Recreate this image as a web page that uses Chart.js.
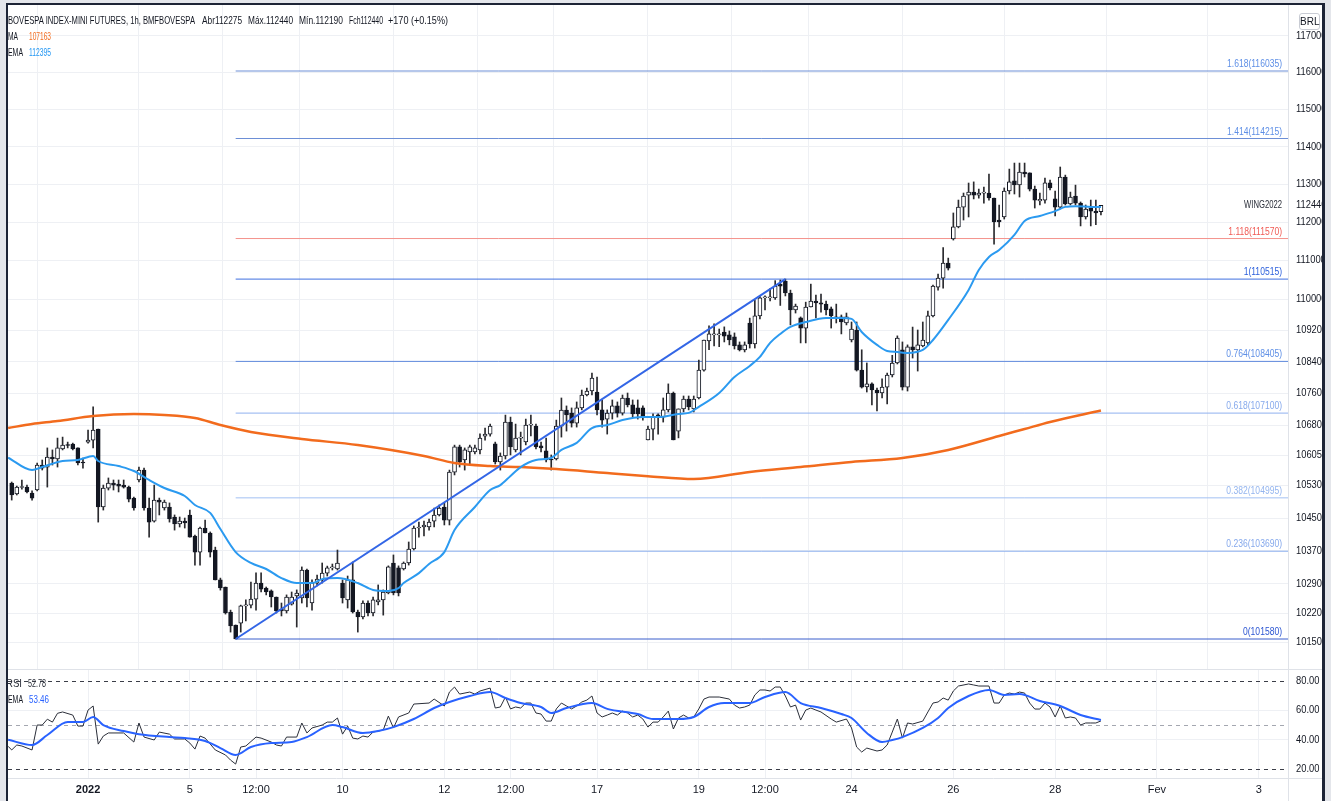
<!DOCTYPE html>
<html>
<head>
<meta charset="utf-8">
<script src="https://cdn.jsdelivr.net/npm/chart.js@4.4.1/dist/chart.umd.min.js"></script>
<style>
  html, body { margin:0; padding:0; }
  body { width:1331px; height:801px; overflow:hidden; position:relative; background:#e4e6eb;
         font-family:'Liberation Sans', Arial, sans-serif; }
  #inner { position:absolute; left:8px; top:5px; width:1314px; height:796px; background:#fff; }
  canvas { position:absolute; display:block; }
  #cPrice { left:8px; top:5px; }
  #cRsi { left:8px; top:669px; }
  .t { position:absolute; white-space:nowrap; font-size:11.5px; line-height:12px; color:#131722; transform-origin:0 50%; z-index:5; }
  .fr { position:absolute; background:#1d2436; z-index:10; }
  #brl { position:absolute; left:1299px; top:13px; width:19px; height:15px; border:1px solid #c9ccd4; border-radius:3px;
         background:#fff; font-size:10px; line-height:15px; text-align:center; color:#131722; z-index:6; }
</style>
</head>
<body>
<div id="inner"></div>
<canvas id="cPrice" width="1314" height="664"></canvas>
<canvas id="cRsi" width="1314" height="132"></canvas>

<span class="t" style="left:8px;top:14px" data-w="187">BOVESPA INDEX-MINI FUTURES, 1h, BMFBOVESPA</span>
<span class="t" style="left:202px;top:14px" data-w="40">Abr112275</span>
<span class="t" style="left:248px;top:14px" data-w="45">Máx.112440</span>
<span class="t" style="left:299px;top:14px" data-w="44">Mín.112190</span>
<span class="t" style="left:349px;top:14px" data-w="34">Fch112440</span>
<span class="t" style="left:388px;top:14px" data-w="60">+170 (+0.15%)</span>
<span class="t" style="left:8px;top:30px" data-w="10">MA</span>
<span class="t" style="left:29px;top:30px;color:#f26b1d" data-w="22">107163</span>
<span class="t" style="left:8px;top:46px" data-w="15">EMA</span>
<span class="t" style="left:29px;top:46px;color:#2196f3" data-w="22">112395</span>
<span class="t" style="left:6px;top:677px;color:#2a2e39" data-w="16">RSI</span>
<span class="t" style="left:28px;top:677px;color:#2a2e39" data-w="18">52.78</span>
<span class="t" style="left:8px;top:693px" data-w="15">EMA</span>
<span class="t" style="left:29px;top:693px;color:#2962ff" data-w="20">53.46</span>
<div id="brl">BRL</div>

<div class="fr" style="left:6px;top:3px;width:2px;height:798px"></div>
<div class="fr" style="left:6px;top:3px;width:1319px;height:2px"></div>
<div class="fr" style="left:1322px;top:3px;width:3px;height:798px"></div>

<script>
// ---------- data ----------
const opens = [105360,105090,105250,105260,105115,105188,105805,105755,106005,105955,
106205,106300,106325,106230,105880,106375,106425,106700,104770,105235,
105360,105335,105310,105260,104990,105435,105680,104745,104425,104940,
104745,104770,104525,104355,104425,104575,104060,103670,104255,104135,
103720,102995,102825,102225,101915,101960,102370,102390,102535,102920,
102800,102730,102585,102295,102250,102415,102610,102560,103235,102440,
102920,102995,103160,103285,103260,102920,102515,102995,102225,102105,
102440,102200,102465,102515,102680,103405,103285,103260,103405,103745,
104255,104280,104280,104425,104575,104770,104450,105630,106255,105930,
106130,106130,106180,106525,106575,106330,105880,106030,106875,106180,
106475,106380,106800,106775,106280,106155,105955,105955,106775,107178,
107100,106850,107230,107555,107655,107630,107180,106950,107100,107280,
107100,107480,107305,107230,107230,106430,106700,107055,107000,107180,
107605,106650,107205,107455,107205,107480,108185,108925,109080,109080,
109155,109080,109030,108825,108695,109385,108850,109565,110030,110030,
110030,110385,110465,110155,109720,109515,109255,109795,109950,109900,
109870,109745,109540,109540,109385,108950,109205,108185,107760,107835,
107680,107605,107755,108060,108365,108700,107755,108775,108695,108800,
108875,109565,110305,110540,110930,111560,111875,112395,112710,112790,
112710,112765,112765,112635,112055,112135,112820,113085,112980,113320,
113300,112870,112560,112580,113035,112610,112395,113190,112475,112685,
112500,112135,112370,112290,112275];

const highs = [105385,105285,105435,105310,105165,105855,105930,106230,106180,106475,
106500,106375,106350,106230,105980,106675,107255,106700,105310,105485,
105435,105435,105435,105285,105015,105755,105730,104990,105310,104990,
104940,104870,104575,104525,104500,104695,104085,104280,104450,104160,
103790,103040,102825,102270,101915,102390,102515,102945,103165,103165,
102825,102755,102585,102440,102635,102705,102755,103310,103260,102995,
103115,103405,103330,103380,103720,102995,103090,103430,102270,102490,
102490,102585,102875,102755,103335,103600,103335,103430,103915,104305,
104400,104425,104475,104745,104820,104870,105680,106300,106300,106230,
106300,106300,106580,106725,106825,106375,106105,107050,107000,106825,
106625,106950,107050,106825,106375,106475,106055,106925,107480,107280,
107230,107380,107680,107730,108110,108010,107430,107180,107430,107380,
107555,107605,107430,107430,107280,106775,107080,107080,107480,107835,
107630,107205,107530,107530,107530,108440,108950,109310,109365,109230,
109285,109180,109130,108900,108900,109510,109970,110080,110080,110270,
110475,110490,110515,110230,109870,109540,109920,110385,110100,110130,
109950,109795,109870,109590,109640,109410,109410,108700,108365,107860,
107730,107960,108110,108560,109055,108900,108825,109280,109205,109410,
109690,110360,110645,111335,111060,112240,112580,112765,113030,113060,
112870,112920,113270,112635,112450,112900,113400,113560,113560,113560,
113300,112950,112765,113160,113110,112820,113455,113240,112790,112975,
112530,112450,112580,112580,112440];

const lows = [104940,105065,105210,105115,104940,105165,105682,105260,105805,105755,
106180,106230,106180,105805,105730,106350,106230,104400,104695,105188,
105188,105140,105235,104895,104695,105385,104695,104035,104400,104575,
104695,104400,104205,104280,104255,104035,103355,103355,104135,103550,
102995,102750,102175,101745,101580,101745,102010,102320,102270,102705,
102635,102345,102200,102130,102200,102390,101865,102440,102345,102270,
102850,102920,103090,103235,103235,102440,102320,102200,101745,102060,
102130,102130,102395,102150,102660,102635,102610,103235,103355,103720,
104035,104060,104205,104280,104550,104330,104330,105560,105755,105680,
105805,106080,106080,106425,106525,105830,105680,105955,106055,106130,
106055,106305,106530,106205,106130,105880,105680,105930,106500,106650,
106750,106750,107180,107530,107555,107055,106750,106575,106950,107000,
107050,107255,107000,106950,106925,106430,106430,106575,106875,107130,
106430,106480,107130,107180,107130,107455,108160,108700,108800,108780,
108900,108825,108720,108670,108645,108745,108745,109490,109720,109950,
109990,109835,110080,109335,109640,108875,108875,109795,109515,109665,
109590,109255,109385,109105,109335,108900,108160,107730,107630,107305,
107155,107480,107330,108010,108340,107680,107655,108490,108160,108775,
108825,109540,110230,110280,110750,111530,111850,112055,112135,112610,
112630,112500,112580,111425,111875,112080,112740,112740,112660,113190,
112820,112370,112450,112500,112850,112160,112345,112450,112450,112450,
111900,112080,111900,111930,112190];

const closes = [105065,105260,105265,105140,104990,105805,105730,106005,105955,106230,
106300,106290,106205,105855,105855,106425,106675,104770,105235,105360,
105310,105285,105260,104965,104745,105680,104745,104400,104940,104890,
104890,104475,104355,104425,104380,104035,103670,104255,104135,103670,
102995,102800,102200,101890,101580,102370,102390,102535,102920,102775,
102705,102585,102250,102250,102585,102585,102680,103235,102560,102920,
103015,103160,103285,103310,103405,102560,102995,102225,102105,102440,
102200,102515,102515,102705,103310,102680,102680,103405,103745,104255,
104280,104330,104400,104575,104745,104450,105630,106255,105880,106180,
106255,106230,106475,106575,106775,105880,106030,106875,106255,106475,
106500,106800,106825,106255,106230,105930,105930,106775,107178,107055,
106850,107230,107555,107655,107985,107178,106925,107100,107280,107100,
107480,107305,107080,107080,107000,106700,107000,107000,107180,107605,
106430,107205,107455,107255,107455,108185,108950,109105,109105,109090,
109050,108950,108800,108695,108825,108850,109565,110030,110040,110055,
110335,110335,110155,109720,109820,109255,109795,109950,109900,109870,
109720,109565,109515,109410,109540,109230,108185,107755,107835,107680,
107605,107755,108060,108365,109000,107755,108775,108695,108825,108950,
109565,110335,110540,110930,110800,111875,112395,112685,112790,112710,
112765,112775,112635,112005,112005,112820,113060,112980,113320,113270,
112870,112580,112600,113035,112900,112395,113190,112475,112660,112500,
112135,112345,112290,112240,112440];

// moving averages: [bar index, value]
const maPoints = [[-0.7,106727],[4,106827],[9,106900],[16,107027],[24,107077],[30,107052],[36,106977],[41,106802],[47,106627],[57,106452],[68,106303],[81,106030],[87,105855],[94,105780],[100,105755],[107,105705],[117,105605],[125,105530],[134,105460],[145,105635],[155,105755],[165,105880],[175,105980],[184,106180],[194,106527],[199,106702],[204,106877],[214,107163]];
const emaPoints = [[-0.7,105990],[4,105682],[6,105755],[10,105905],[13,105930],[16,106030],[17,105905],[21,105780],[24,105657],[27,105435],[30,105237],[34,105040],[36,104820],[39,104625],[41,104230],[44,103670],[47,103405],[50,103260],[53,103040],[56,102920],[59,102920],[61,103015],[64,103040],[68,102920],[71,102755],[74,102730],[76,102800],[77,102920],[80,103160],[82,103380],[85,103670],[87,104205],[91,104770],[94,105188],[96,105310],[98,105535],[100,105755],[103,105930],[106,105980],[108,106180],[111,106355],[114,106725],[117,106800],[120,106925],[124,107000],[127,107000],[131,107080],[133,107105],[135,107255],[139,107605],[142,108010],[145,108290],[147,108520],[149,108875],[151,109105],[153,109285],[156,109410],[160,109515],[163,109515],[165,109490],[167,109155],[170,108825],[172,108670],[174,108645],[176,108620],[179,108695],[181,108950],[184,109465],[188,110235],[190,110750],[192,111090],[194,111270],[197,111665],[199,112030],[202,112160],[205,112290],[207,112400],[209,112420],[212,112400],[214,112395]];

// RSI and its EMA: [bar index, value]
const rsiPoints = [[-0.7,35.5],[0,33],[1,36.4],[2,35.7],[4,33],[5,50],[6,50],[7,54],[8,52],[9,58],[10,58.9],[12,56.8],[13,49.3],[14,49.3],[15,60.2],[16,63],[17,37],[18,42.5],[19,44.6],[22,44.6],[24,38.4],[25,51.4],[26,41.8],[28,39.8],[29,45.2],[31,43.8],[32,40.5],[34,40.5],[35,37.7],[36,33.6],[37,42.5],[38,41.1],[40,33],[42,29.6],[43,26.1],[44,23.4],[45,35],[46,35.7],[48,41.8],[49,41.1],[51,38.4],[52,36.4],[53,35.7],[54,41.8],[56,41.8],[57,51.4],[58,44.6],[59,48],[61,50],[62,52],[63,52],[64,54.8],[65,43.8],[66,49.3],[67,41.1],[68,40.5],[69,42.5],[70,41.8],[71,45.2],[73,46.6],[74,56.1],[75,48],[76,55.5],[78,58.2],[79,64.3],[82,65],[83,67.7],[85,63],[86,72.5],[87,75.9],[88,71.1],[90,72.5],[91,71.1],[92,73.2],[94,75.2],[95,61.6],[96,62.3],[97,69.1],[98,61],[99,62.3],[100,61.6],[101,65],[102,65],[103,58.2],[104,57.5],[105,52.7],[106,52.7],[107,61],[108,65],[109,63],[110,61],[111,63],[112,65.7],[113,67],[114,69.8],[115,58.2],[116,55.5],[117,56.8],[118,58.2],[119,56.8],[120,59.5],[121,58.2],[122,55.5],[123,56.8],[124,54.1],[125,48.6],[126,52],[127,52],[128,55.5],[129,59.5],[130,47.3],[131,54.8],[132,56.8],[133,54.8],[134,55.5],[135,61],[136,67.7],[137,69.1],[139,69.1],[141,67.7],[142,63.6],[143,61.6],[144,62.3],[145,63.6],[146,70.5],[147,73.9],[148,73.9],[149,73.2],[150,75.9],[151,75.9],[152,69.8],[153,62.3],[154,63.6],[155,53.4],[156,60.2],[157,61.6],[158,60.2],[159,58.9],[161,54.1],[162,52],[164,54.1],[165,48],[166,35],[167,31.6],[168,34.3],[170,32.3],[171,33],[172,36.4],[173,45.2],[174,54.1],[175,41.1],[176,51.4],[177,50.7],[179,52.7],[180,58.9],[181,65],[182,65.7],[183,68.4],[184,67],[185,73.2],[186,76.6],[188,78],[189,77.3],[190,76.6],[192,76.6],[193,65],[194,65],[195,70.5],[196,71.8],[197,71.1],[198,72.5],[199,71.8],[200,65],[201,60.9],[202,60.9],[203,65],[204,62.3],[205,55.5],[206,63],[207,54.8],[208,55.5],[209,54.8],[210,50],[211,51.4],[212,51.4],[213,51.4],[214,52.78]];
const rsiEmaPoints = [[-0.7,40],[4,36.4],[7,43.2],[11,52],[14,52],[16,55.5],[18,50],[22,45.9],[25,43.8],[31,41.8],[34,41.1],[38,39.1],[41,34.3],[44,29.6],[47,35],[51,37.7],[55,38.4],[58,41.8],[63,50],[65,48.6],[69,44.6],[72,45.9],[75,48.6],[79,54.1],[83,61.6],[86,65.7],[90,69.8],[94,72.5],[97,68.4],[100,65],[104,62.3],[106,58.2],[109,61.6],[114,65],[117,61],[123,57.5],[126,54.1],[131,54.1],[134,55.5],[137,62.3],[140,65],[145,65],[148,69.1],[152,72.5],[155,65],[159,61.6],[163,57.5],[165,54.8],[168,44.6],[171,38.4],[173,39.8],[175,41.8],[179,48],[182,54.8],[184,61.6],[188,69.8],[192,73.9],[195,70.5],[198,71.1],[202,66.4],[206,63],[210,56.8],[214,53.46]];

// Fibonacci retracement
const fibLevels = [1.618, 1.414, 1.118, 1, 0.764, 0.618, 0.382, 0.236, 0];
const fibValues = [116035, 114215, 111570, 110515, 108405, 107100, 104995, 103690, 101580];
const fibStartIdx = 44;
const trendLine = [[44, 101580], [152, 110515]];

// axes
const priceTicks = [117000,116000,115000,114000,113000,112000,111000,110000,109200,108400,107600,106800,106050,105300,104500,103700,102900,102200,101500];
const lastPrice = 112440;
const symbolTag = 'WING2022';
const timeTickIdx = [15, 35, 48, 65, 85, 98, 115, 135, 148, 165, 185, 205, 225, 245];
const timeTickLabels = ['2022','5','12:00','10','12','12:00','17','19','12:00','24','26','28','Fev','3'];
const rsiTicks = [20, 40, 60, 80];
const rsiBands = [80, 50, 20];

// ---------- styles ----------
const FONT = "'Liberation Sans', Arial, sans-serif";
Chart.defaults.font.family = FONT;
Chart.defaults.font.size = 11;
Chart.defaults.color = '#131722';
const GRID = '#eef0f4';
const SEP = '#dfe2e8';
const fibLineColors  = ['#6d8fd6','#6d8fd6','#f4928c','#3f6fe0','#5f88dc','#8fb0ef','#a3c0f3','#8cafee','#3a5fcc'];
const fibLabelColors = ['#5e8fe6','#5e8fe6','#f05a54','#2b5fdc','#5e8fe6','#86a9ec','#94b5ef','#86a9ec','#2b55d2'];

const xMin = -0.727, xMax = 250.75;
const pMin = 100869, pMax = 117843;
const rMin = 13.9, rMax = 88.2;

const idx = opens.map((_, i) => i);
const pts = arr => arr.map(p => ({x: p[0], y: p[1]}));

function noPad(s){ s.paddingTop = 0; s.paddingBottom = 0; s.paddingLeft = 0; s.paddingRight = 0; }

// draws a narrow text (horizontally compressed like the reference) at x,y
function narrowText(ctx, text, x, y, f, align) {
  ctx.save(); ctx.translate(x, y); ctx.scale(f, 1);
  ctx.textAlign = align; ctx.fillText(text, 0, 0); ctx.restore();
}
function axisFactor(ctx) { return 30.5 / ctx.measureText('117000').width; }

// ---------- price chart ----------
const pricePlugin = {
  id: 'priceDeco',
  afterDraw(chart) {
    const {ctx, chartArea: a, scales: {y}} = chart;
    ctx.save();
    ctx.strokeStyle = SEP; ctx.lineWidth = 1;
    ctx.beginPath(); ctx.moveTo(Math.round(a.right) + 0.5, 0); ctx.lineTo(Math.round(a.right) + 0.5, chart.height); ctx.stroke();
    ctx.font = `11px ${FONT}`;
    ctx.textBaseline = 'middle';
    const f = 55 / ctx.measureText('1.618(116035)').width;
    fibLevels.forEach((lv, k) => {
      ctx.fillStyle = fibLabelColors[k];
      narrowText(ctx, `${lv}(${fibValues[k]})`, a.right - 6, y.getPixelForValue(fibValues[k]) - 7, f, 'right');
    });
    const ly = y.getPixelForValue(lastPrice);
    ctx.fillStyle = '#2a2e39';
    narrowText(ctx, symbolTag, a.right - 6, ly, 38 / ctx.measureText(symbolTag).width, 'right');
    // price axis labels, at the scale's own tick positions
    const af = axisFactor(ctx);
    ctx.fillStyle = '#131722';
    y.ticks.forEach(t => narrowText(ctx, String(Math.round(t.value)), a.right + 8, y.getPixelForValue(t.value), af, 'left'));
    narrowText(ctx, String(lastPrice), a.right + 8, ly, af, 'left');
    ctx.restore();
  }
};

new Chart(document.getElementById('cPrice'), {
  type: 'bar',
  data: {
    datasets: [
      ...fibValues.map((v, k) => ({
        type: 'line', data: [{x: fibStartIdx, y: v}, {x: xMax, y: v}],
        borderColor: fibLineColors[k], borderWidth: 1, pointRadius: 0, order: 20
      })),
      {
        type: 'bar', data: idx.map(i => ({x: i, y: [lows[i], highs[i]]})),
        backgroundColor: '#2a2a2e', barThickness: 1, grouped: false, order: 11
      },
      {
        type: 'bar', data: idx.map(i => ({x: i, y: [opens[i], closes[i]]})),
        backgroundColor: c => closes[c.dataIndex] >= opens[c.dataIndex] ? '#ffffff' : '#131722',
        borderColor: '#131722', borderWidth: 1, borderSkipped: false,
        barThickness: 4, minBarLength: 1, grouped: false, order: 10
      },
      { type: 'line', data: pts(maPoints), borderColor: '#f26b1d', borderWidth: 2.5, pointRadius: 0, cubicInterpolationMode: 'monotone', order: 3 },
      { type: 'line', data: pts(emaPoints), borderColor: '#2b9af0', borderWidth: 2, pointRadius: 0, cubicInterpolationMode: 'monotone', order: 2 },
      { type: 'line', data: pts(trendLine), borderColor: '#3366e6', borderWidth: 2, pointRadius: 0, order: 1 }
    ]
  },
  options: {
    responsive: false, animation: false, events: [],
    layout: {padding: 0},
    plugins: {legend: {display: false}, tooltip: {enabled: false}},
    scales: {
      x: {
        type: 'linear', min: xMin, max: xMax, offset: false,
        afterBuildTicks: s => { s.ticks = timeTickIdx.map(v => ({value: v})); },
        ticks: {display: false},
        grid: {color: GRID, drawTicks: false},
        border: {display: false},
        afterFit: s => { s.height = 0; noPad(s); }
      },
      y: {
        type: 'logarithmic', position: 'right', min: pMin, max: pMax,
        afterBuildTicks: s => { s.ticks = priceTicks.map(v => ({value: v})); },
        ticks: {display: false},
        grid: {color: GRID, drawTicks: false},
        border: {display: false},
        afterFit: s => { s.width = 34; noPad(s); }
      }
    }
  },
  plugins: [pricePlugin]
});

// ---------- RSI chart ----------
const rsiPlugin = {
  id: 'rsiDeco',
  beforeDatasetsDraw(chart) {
    const {ctx, chartArea: a, scales: {y}} = chart;
    ctx.save();
    ctx.lineWidth = 1; ctx.setLineDash([4, 4]);
    rsiBands.forEach(v => {
      const py = Math.round(y.getPixelForValue(v)) + 0.5;
      ctx.strokeStyle = v === 50 ? '#a4a7b0' : '#3b3e48';
      ctx.beginPath(); ctx.moveTo(a.left, py); ctx.lineTo(a.right, py); ctx.stroke();
    });
    ctx.restore();
  },
  afterDraw(chart) {
    const {ctx, chartArea: a, scales: {y}} = chart;
    ctx.save();
    ctx.strokeStyle = SEP; ctx.lineWidth = 1;
    ctx.beginPath();
    ctx.moveTo(0, 0.5); ctx.lineTo(chart.width, 0.5);
    ctx.moveTo(0, Math.round(a.bottom) + 0.5); ctx.lineTo(chart.width, Math.round(a.bottom) + 0.5);
    ctx.moveTo(Math.round(a.right) + 0.5, 0); ctx.lineTo(Math.round(a.right) + 0.5, chart.height);
    ctx.stroke();
    ctx.font = `11px ${FONT}`;
    ctx.textBaseline = 'middle';
    ctx.fillStyle = '#131722';
    const af = axisFactor(ctx);
    y.ticks.forEach(t => narrowText(ctx, t.value.toFixed(2), a.right + 8, y.getPixelForValue(t.value), af, 'left'));
    ctx.restore();
  }
};

new Chart(document.getElementById('cRsi'), {
  type: 'line',
  data: {
    datasets: [
      { data: pts(rsiPoints), borderColor: '#2a2e39', borderWidth: 1, pointRadius: 0, tension: 0, order: 2 },
      { data: pts(rsiEmaPoints), borderColor: '#2962ff', borderWidth: 2, pointRadius: 0, cubicInterpolationMode: 'monotone', order: 1 }
    ]
  },
  options: {
    responsive: false, animation: false, events: [],
    layout: {padding: 0},
    plugins: {legend: {display: false}, tooltip: {enabled: false}},
    scales: {
      x: {
        type: 'linear', min: xMin, max: xMax, offset: false,
        afterBuildTicks: s => { s.ticks = timeTickIdx.map(v => ({value: v})); },
        ticks: {
          autoSkip: false, maxRotation: 0, padding: 5, color: '#131722',
          callback: v => timeTickLabels[timeTickIdx.indexOf(v)],
          font: c => (c.tick && c.tick.value === timeTickIdx[0]) ? {size: 11, weight: 'bold'} : {size: 11}
        },
        grid: {color: GRID, drawTicks: false},
        border: {display: false},
        afterFit: s => { s.height = 23; noPad(s); }
      },
      y: {
        type: 'linear', position: 'right', min: rMin, max: rMax,
        afterBuildTicks: s => { s.ticks = rsiTicks.map(v => ({value: v})); },
        ticks: {display: false},
        grid: {color: c => (c.tick && (c.tick.value === 40 || c.tick.value === 60)) ? GRID : 'rgba(0,0,0,0)', drawTicks: false},
        border: {display: false},
        afterFit: s => { s.width = 34; noPad(s); }
      }
    }
  },
  plugins: [rsiPlugin]
});

// ---------- fit legend text widths ----------
function fitTexts() {
  document.querySelectorAll('.t').forEach(el => {
    el.style.transform = 'none';
    const w = parseFloat(el.dataset.w);
    const r = el.getBoundingClientRect().width;
    if (r > 0 && w > 0) el.style.transform = `scaleX(${w / r})`;
  });
}
fitTexts();
if (document.fonts && document.fonts.ready) document.fonts.ready.then(fitTexts);
</script>
</body>
</html>
